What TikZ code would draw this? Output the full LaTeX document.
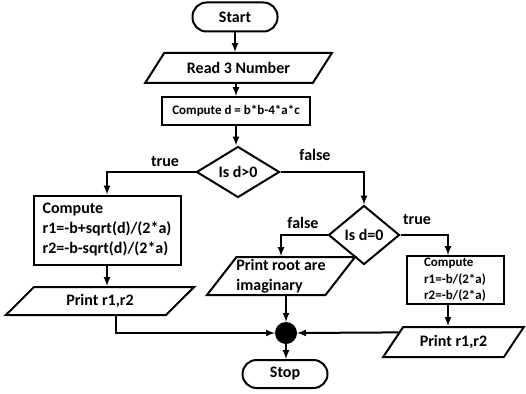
\documentclass[tikz,border=0pt]{standalone}
\usepackage{fontspec}
\setmainfont{Carlito}
\usetikzlibrary{shapes.geometric,calc}

\begin{document}
\begin{tikzpicture}[
        x=1pt, y=-1pt,
        every node/.style={font=\bfseries\fontsize{16}{20}\selectfont},
        small/.style={font=\bfseries\fontsize{13}{16.5}\selectfont},
        terminal/.style={rectangle, rounded corners=14pt, draw, line width=2pt, minimum width=85pt, minimum height=29pt, inner sep=0pt},
        io/.style={trapezium, trapezium stretches=true, draw, line width=2pt, inner sep=0pt},
        process/.style={rectangle, draw, line width=2pt, inner sep=0pt},
        decision/.style={diamond, draw, line width=2pt, inner sep=0pt},
        junction/.style={circle, fill=black, minimum size=22pt, inner sep=0pt},
        branch/.style={inner sep=0pt},
        arrow/.style={->, >=latex, line width=2pt}
    ]
        \useasboundingbox (0,0) rectangle (526,393);

        % Start, Eingabe, Diskriminante
        \node[terminal] (start) at (235,17) {Start};
        \node[io, trapezium left angle=40.6, trapezium right angle=139.4,
              minimum width=187pt, minimum height=30pt] (read) at (238.5,68) {Read 3 Number};
        \node[process, small, minimum width=148pt, minimum height=28pt] (cmpd) at (236,111) {Compute d = b*b-4*a*c};

        % Erste Entscheidung
        \node[decision, minimum width=83pt, minimum height=51pt] (isgt) at (238,172) {Is d>0};

        % Zweig d>0
        \node[process, align=left, minimum width=147pt, minimum height=69pt] (cmpa) at (107,230)
            {Compute\\r1=-b+sqrt(d)/(2*a)\\r2=-b-sqrt(d)/(2*a)};
        \node[io, trapezium left angle=43, trapezium right angle=137,
              minimum width=190pt, minimum height=28pt] (prta) at (100,301) {Print r1,r2};

        % Zweite Entscheidung
        \node[decision, minimum width=71pt, minimum height=59pt] (iseq) at (364,235) {Is d=0};
        \node[io, align=left, trapezium left angle=49, trapezium right angle=131,
              minimum width=132pt, minimum height=38pt] (prim) at (281,276) {Print root are\\imaginary};
        \node[process, small, align=left, minimum width=97pt, minimum height=48pt] (cmpb) at (455,280)
            {Compute\\r1=-b/(2*a)\\r2=-b/(2*a)};
        \node[io, trapezium left angle=45, trapezium right angle=135,
              minimum width=141pt, minimum height=30pt] (prtb) at (453.5,342) {Print r1,r2};

        % Zusammenfuehrung und Ende
        \node[junction] (dot) at (286,333) {};
        \node[terminal, minimum height=28pt] (stop) at (285,374) {Stop};

        % Labels
        \node[branch] (lt1) at (165,162) {true};
        \node[branch] (lf1) at (315,155) {false};
        \node[branch] (lf2) at (303,223) {false};
        \node[branch] (lt2) at (417,220) {true};

        % Verbindungen
        \draw[arrow] (start.south) -- (start.south |- read.north);
        \draw[arrow] (read.south -| cmpd.north) -- (cmpd.north);
        \draw[arrow] (cmpd.south) -- (cmpd.south |- isgt.north);
        \draw[arrow] (isgt.west) -| (cmpa.north);
        \draw[arrow] (isgt.east) -| (iseq.north);
        \draw[arrow] (cmpa.south) -- (cmpa.south |- prta.north);
        \draw[arrow] ([xshift=16pt]prta.south) |- (dot.west);
        \draw[arrow] (iseq.west) -| (prim.north);
        \draw[arrow] (iseq.east) -| ([xshift=-7pt]cmpb.north);
        \draw[arrow] (prim.south -| dot.north) -- (dot.north);
        \draw[arrow] ([xshift=-7pt]cmpb.south) -- ([xshift=-7pt]cmpb.south |- prtb.north);
        \draw[arrow] ($(prtb.top left corner)!0.2!(prtb.bottom left corner)$) -- (dot.east);
        \draw[arrow] (dot.south) -- (dot.south |- stop.north);

    \end{tikzpicture}
\end{document}
